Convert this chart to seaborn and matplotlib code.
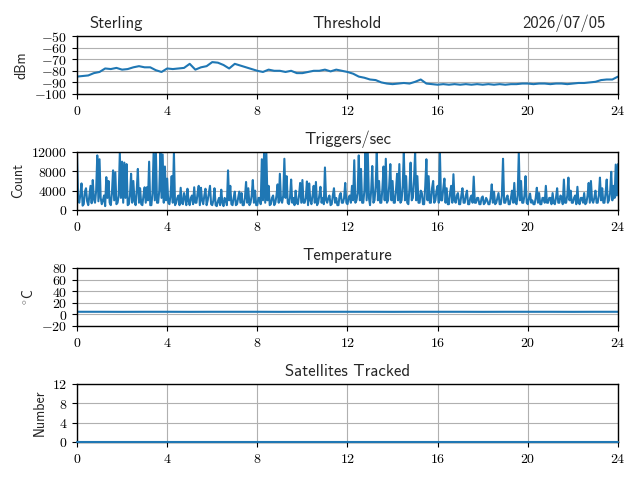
import numpy as np
import pandas as pd
import matplotlib
matplotlib.use("Agg")
import matplotlib.pyplot as plt
from matplotlib.ticker import FuncFormatter
import seaborn as sns

# ==========================================
# DATA
# ==========================================

threshold_dbm = [
    -85, -84.5, -84, -82, -81, -78, -78.5, -77.5,
    -79, -78.5, -77, -76, -77, -77, -79.5, -81,
    -78, -78.5, -78, -77.5, -74, -79, -77, -76,
    -72.5, -73, -75, -78, -74, -75.5, -77, -78.5,
    -80, -81, -79, -80, -80, -81, -80, -82,
    -82, -81, -80, -80, -79, -80.5, -79, -80,
    -81, -82.5, -85, -86, -87.5, -88, -90, -91,
    -91.5, -91, -90.5, -91, -89.5, -87.5, -91, -91.5,
    -92, -91.5, -92, -91.5, -92, -91.5, -92, -91.5,
    -92, -91.5, -92, -91.5, -92, -91.5, -91.5, -91,
    -91, -91.5, -91, -91, -91.5, -91, -91, -91.5,
    -91, -90.5, -90.5, -90, -89.5, -88, -87.5, -87.5,
    -85,
]

# one row per hour, 3-minute steps
triggers = [
    11500, 2500, 1500, 3200, 5500, 900, 1200, 3800, 4500, 1800, 1000, 3000, 5000, 1400, 6200, 2200, 1500, 4000, 11300, 1800,
    10500, 2500, 1200, 2000, 3000, 800, 6800, 2500, 6000, 1500, 1000, 3500, 8200, 2000, 7800, 1200, 1500, 3000, 11800, 2500,
    10000, 1500, 9800, 2500, 9500, 1000, 1200, 3000, 7500, 1500, 6000, 2000, 1000, 4000, 8500, 1500, 4500, 1200, 1000, 3000,
    4700, 1500, 4700, 2000, 10000, 1000, 1000, 3500, 12000, 2000, 12000, 1500, 1500, 4000, 11800, 2500, 11500, 1500, 9000, 2000,
    6500, 1500, 1200, 3000, 7000, 1500, 12000, 1000, 1500, 2500, 3000, 1000, 4600, 1500, 1200, 3500, 2500, 1000, 4400, 1800,
    1000, 2500, 3000, 1200, 4700, 1500, 1500, 3500, 5000, 1000, 4600, 2000, 1200, 3000, 4400, 1000, 2000, 3500, 5000, 1200,
    1000, 2000, 4500, 1000, 800, 1800, 2500, 1000, 4200, 1500, 800, 2500, 2000, 1000, 8200, 2000, 5000, 1200, 1000, 2500,
    3800, 1000, 1200, 2500, 3800, 1500, 3500, 1000, 1000, 2500, 5800, 1500, 4500, 1000, 1500, 3000, 6200, 1500, 4000, 1000,
    1000, 2500, 2500, 1200, 10500, 2000, 12000, 1500, 12000, 2000, 5000, 1000, 1200, 2500, 3000, 1000, 1500, 3000, 5300, 1500,
    7500, 2000, 1500, 3000, 10600, 2500, 7000, 1500, 1200, 2500, 6300, 1500, 2500, 1000, 4000, 1500, 1200, 3000, 5600, 1500,
    6200, 1500, 1500, 2500, 5900, 1000, 5500, 2000, 1200, 3000, 5000, 1500, 5800, 1000, 1500, 3000, 4800, 1500, 2500, 1200,
    8800, 2000, 1500, 2500, 3000, 1000, 1200, 3000, 4500, 1500, 2500, 1000, 1000, 3000, 3500, 1500, 1500, 2500, 5600, 1500,
    1200, 2500, 3000, 1500, 5000, 2000, 10300, 1500, 2000, 3500, 11300, 2000, 8500, 1500, 1500, 4000, 12000, 2000, 12000, 2500,
    1000, 4000, 9100, 1500, 2000, 5000, 12000, 2000, 6000, 1500, 1500, 4500, 9000, 2000, 10600, 1500, 2000, 5000, 9500, 2000,
    6000, 1500, 1500, 4000, 7500, 2000, 9500, 1500, 2000, 5000, 12000, 2000, 7000, 1500, 1200, 4500, 9800, 2000, 2500, 6000,
    12000, 2000, 7000, 1500, 1500, 4000, 3500, 1200, 1200, 5000, 10500, 2000, 7000, 1500, 1500, 4500, 6000, 1500, 2000, 4000,
    5000, 1500, 12000, 2000, 2000, 4500, 6500, 1500, 4500, 1200, 1200, 3500, 5000, 1500, 7400, 2000, 1500, 3000, 3500, 1200,
    1200, 3000, 4500, 1500, 1500, 3000, 4000, 1200, 1200, 2500, 3000, 1500, 6900, 1500, 1500, 2500, 2500, 1200, 1200, 2500,
    2800, 1200, 1500, 2500, 2000, 1200, 1200, 2500, 5300, 1500, 3800, 1200, 1500, 2500, 3500, 1200, 1200, 3000, 10600, 1500,
    1500, 2500, 3000, 1200, 1200, 2500, 4000, 1500, 5600, 1500, 1200, 3000, 12000, 2000, 6000, 1500, 1500, 3000, 7000, 1500,
    1200, 2500, 3400, 1500, 2000, 1200, 1200, 2500, 4600, 1500, 3500, 1200, 1200, 2500, 2500, 1500, 5000, 1500, 1500, 2500,
    2500, 1200, 3500, 1500, 1200, 2500, 4500, 1500, 1500, 3000, 2500, 1200, 6300, 1500, 1500, 3000, 6700, 2000, 4000, 1500,
    1500, 2500, 3000, 1200, 4800, 1500, 1200, 2500, 2500, 1500, 3500, 1200, 1500, 3000, 5600, 1500, 6000, 2000, 1500, 2500,
    4000, 1500, 1500, 3000, 6700, 2000, 4500, 1500, 1500, 3500, 6300, 1500, 2000, 3500, 7900, 2000, 5000, 2500, 9400, 3000,
    9500,
]

temperature_c = [
    4.5, 4.5, 4.4, 4.5, 4.5, 4.4, 4.5, 4.5, 4.5, 4.4, 4.5, 4.5, 4.5,
    4.5, 4.4, 4.5, 4.5, 4.5, 4.4, 4.5, 4.5, 4.5, 4.4, 4.5, 4.5,
]

satellites = [
    0, 0, 0, 0, 0, 0, 0, 0, 0, 0, 0, 0, 0,
    0, 0, 0, 0, 0, 0, 0, 0, 0, 0, 0, 0,
]

station = "Sterling"
date_label = "2026/07/05"
hour_ticks = [0, 4, 8, 12, 16, 20, 24]

thr_df = pd.DataFrame({
    "Hour": np.linspace(0, 24, len(threshold_dbm)),
    "Value": threshold_dbm
})
trg_df = pd.DataFrame({
    "Hour": np.linspace(0, 24, len(triggers)),
    "Value": triggers
})
tmp_df = pd.DataFrame({
    "Hour": np.linspace(0, 24, len(temperature_c)),
    "Value": temperature_c
})
sat_df = pd.DataFrame({
    "Hour": np.linspace(0, 24, len(satellites)),
    "Value": satellites
})

# ==========================================
# STYLE
# ==========================================

sns.set_style("ticks")

plt.rcParams.update({
    "font.family": ["cmss10", "DejaVu Sans"],
    "mathtext.fontset": "cm",
    "axes.edgecolor": "black",
    "axes.linewidth": 1.0,
    "axes.grid": True,
    "grid.color": "#b0b0b0",
    "grid.linewidth": 0.8,
    "xtick.color": "black",
    "ytick.color": "black",
    "xtick.major.size": 3.5,
    "ytick.major.size": 3.5,
    "xtick.direction": "out",
    "ytick.direction": "out",
    "font.size": 10,
    "axes.titlesize": 12,
    "axes.labelsize": 10,
})

tex_fmt = FuncFormatter(lambda v, pos: r"$%d$" % int(round(v)))

# ==========================================
# FIGURE
# ==========================================

fig, axes = plt.subplots(4, 1, figsize=(6.4, 4.8), dpi=100)
fig.subplots_adjust(left=0.1203, right=0.9656, top=0.925,
                    bottom=0.0792, hspace=1.0)

panels = [
    (thr_df, "Threshold", "dBm", (-100, -50), [-100, -90, -80, -70, -60, -50]),
    (trg_df, "Triggers/sec", "Count", (0, 12000), [0, 4000, 8000, 12000]),
    (tmp_df, "Temperature", r"$^{\circ}$C", (-20, 80), [-20, 0, 20, 40, 60, 80]),
    (sat_df, "Satellites Tracked", "Number", (0, 12), [0, 4, 8, 12]),
]

for ax, (df, title, ylabel, ylim, yticks) in zip(axes, panels):
    sns.lineplot(
        data=df,
        x="Hour",
        y="Value",
        ax=ax,
        color="#1f77b4",
        linewidth=1.5,
        legend=False
    )
    ax.set_xlim(0, 24)
    ax.set_ylim(*ylim)
    ax.set_xticks(hour_ticks)
    ax.set_yticks(yticks)
    ax.xaxis.set_major_formatter(tex_fmt)
    ax.yaxis.set_major_formatter(tex_fmt)
    ax.set_title(title)
    ax.set_ylabel(ylabel)
    ax.set_xlabel("")
    ax.grid(True, color="#b0b0b0", linewidth=0.8)
    ax.set_axisbelow(True)
    for side in ["top", "right", "bottom", "left"]:
        ax.spines[side].set_visible(True)
        ax.spines[side].set_color("black")

# flat satellite line sits on the bottom spine
for line in axes[3].lines:
    line.set_zorder(3)
    line.set_clip_on(False)

axes[0].set_title(station, loc="left", x=0.022)
axes[0].set_title(date_label, loc="right", x=0.978)

fig.savefig("out.png", dpi=100)
